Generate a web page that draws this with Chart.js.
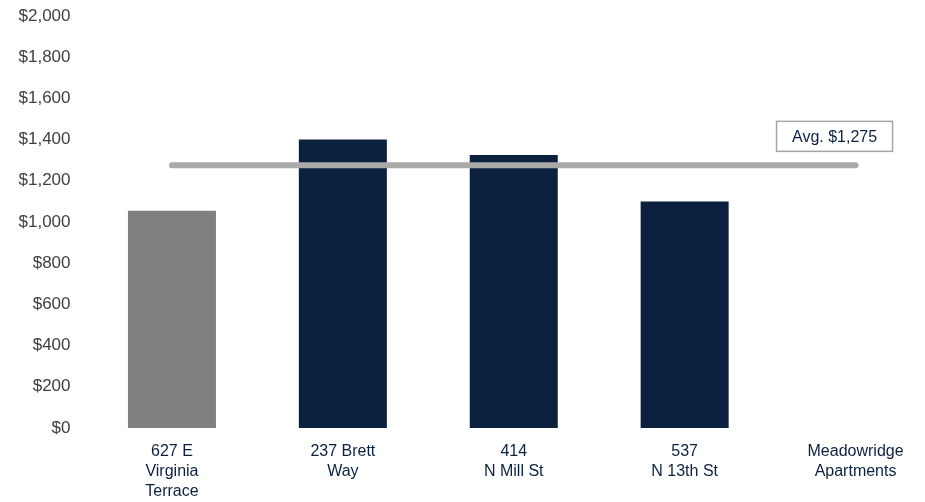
<!DOCTYPE html>
<html>
<head>
<meta charset="utf-8">
<script src="https://cdn.jsdelivr.net/npm/chart.js@4.4.1/dist/chart.umd.min.js"></script>
<style>
  html, body { margin: 0; padding: 0; background: #fff; overflow: hidden; }
  #wrap { width: 925px; height: 502px; overflow: hidden; }
  #wrap canvas { display: block; }
</style>
</head>
<body>
<div id="wrap"><canvas id="rentChart" width="945" height="502"></canvas></div>
<script>
// --- dados ---
const properties = [
    ['627 E', 'Virginia', 'Terrace'],
    ['237 Brett', 'Way'],
    ['414', 'N Mill St'],
    ['537', 'N 13th St'],
    ['Meadowridge', 'Apartments']
];
const rents = [1055, 1400, 1325, 1100, null];
const avgRent = 1275;
const avgLabel = 'Avg. $1,275';
const yTicks = [0, 200, 400, 600, 800, 1000, 1200, 1400, 1600, 1800, 2000];

const navy = '#0c2140';
const barColors = ['#808080', navy, navy, navy, navy];

// caixa "Avg." no fim da linha da m칠dia
const avgBoxPlugin = {
    id: 'avgBox',
    afterDatasetsDraw(chart) {
        const ctx = chart.ctx;
        const x = chart.scales.x.getPixelForValue(properties.length - 1);
        const y = chart.scales.y.getPixelForValue(avgRent);
        const w = 116, h = 30;
        const left = x - 79, top = y - 44;
        ctx.save();
        ctx.fillStyle = '#fff';
        ctx.fillRect(left, top, w, h);
        ctx.strokeStyle = '#a6a6a6';
        ctx.lineWidth = 1.5;
        ctx.strokeRect(left, top, w, h);
        ctx.fillStyle = navy;
        ctx.font = '16px "Liberation Sans", Arial, sans-serif';
        ctx.textAlign = 'center';
        ctx.textBaseline = 'middle';
        ctx.fillText(avgLabel, left + w / 2, top + h / 2 + 1);
        ctx.restore();
    }
};

new Chart(document.getElementById('rentChart'), {
    type: 'bar',
    data: {
        labels: properties,
        datasets: [
            {
                type: 'line',
                data: properties.map(() => avgRent),
                borderColor: '#aaaaaa',
                borderWidth: 6,
                borderCapStyle: 'round',
                pointRadius: 0,
                order: 0
            },
            {
                data: rents,
                backgroundColor: barColors,
                barPercentage: 0.515,
                categoryPercentage: 1,
                order: 1
            }
        ]
    },
    options: {
        responsive: false,
        animation: false,
        layout: { padding: { top: 3, right: 4, left: 0, bottom: 0 } },
        plugins: { legend: { display: false }, tooltip: { enabled: false } },
        scales: {
            x: {
                grid: { display: false },
                border: { display: false },
                ticks: {
                    color: navy,
                    padding: 6,
                    maxRotation: 0,
                    autoSkip: false,
                    font: { family: '"Liberation Sans", Arial, sans-serif', size: 16, lineHeight: 1.25 }
                },
                afterFit: s => { s.height = 74; }
            },
            y: {
                min: 0,
                max: 2000,
                grid: { display: false },
                border: { display: false },
                afterBuildTicks: s => { s.ticks = yTicks.map(v => ({ value: v })); },
                ticks: {
                    color: '#404040',
                    padding: 8,
                    font: { family: '"Liberation Sans", Arial, sans-serif', size: 17 },
                    callback: v => '$' + v.toLocaleString('en-US')
                },
                afterFit: s => { s.width = 86.5; s.paddingTop = 16; }
            }
        }
    },
    plugins: [avgBoxPlugin]
});
</script>
</body>
</html>
